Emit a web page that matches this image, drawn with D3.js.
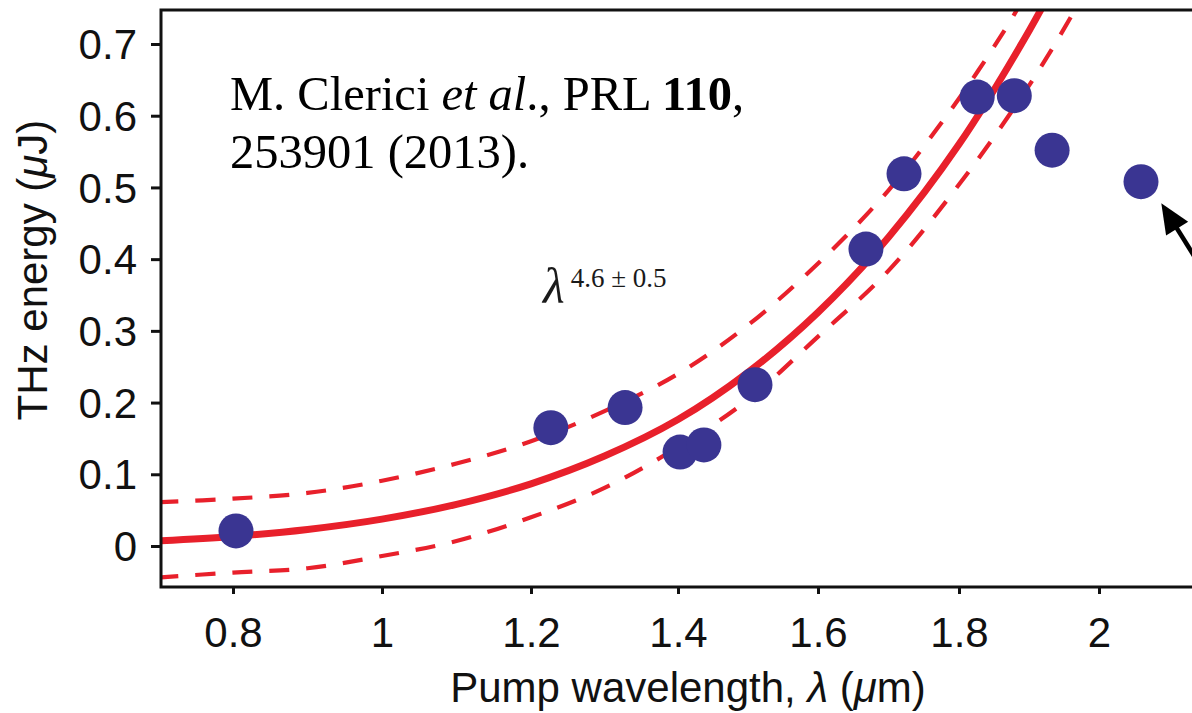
<!DOCTYPE html>
<html>
<head>
<meta charset="utf-8">
<script src="https://cdn.jsdelivr.net/npm/d3@7"></script>
<style>
  html, body { margin: 0; padding: 0; background: #fff; }
  svg { display: block; }
</style>
</head>
<body>
<svg id="chart" width="1192" height="713"></svg>
<script>
// ---------------- data ----------------
const xTicks = [0.8, 1.0, 1.2, 1.4, 1.6, 1.8, 2.0];
const xTickLabels = ["0.8", "1", "1.2", "1.4", "1.6", "1.8", "2"];
const yTicks = [0, 0.1, 0.2, 0.3, 0.4, 0.5, 0.6, 0.7];
const yTickLabels = ["0", "0.1", "0.2", "0.3", "0.4", "0.5", "0.6", "0.7"];

// measured THz energy points (pump wavelength in um, energy in uJ)
const wavelength = [0.804, 1.227, 1.328, 1.403, 1.437, 1.510, 1.668, 1.722, 1.826, 1.879, 1.933, 2.060];
const energy     = [0.021, 0.165, 0.193, 0.131, 0.141, 0.225, 0.414, 0.519, 0.626, 0.628, 0.552, 0.508];

// fitted curve (lambda^4.6) and its confidence band
const fitLambda = [0.70, 0.80, 0.90, 1.00, 1.10, 1.20, 1.30, 1.40, 1.50, 1.60, 1.70, 1.80, 1.90, 1.95];
const fitEnergy = [0.0073, 0.0134, 0.0231, 0.0375, 0.0581, 0.0867, 0.1254, 0.1763, 0.2421, 0.3258, 0.4306, 0.5601, 0.7182, 0.809];
const upperLambda = [0.70, 0.80, 0.90, 1.00, 1.10, 1.20, 1.30, 1.40, 1.50, 1.60, 1.70, 1.80, 1.88, 1.90];
const upperEnergy = [0.061, 0.066, 0.074, 0.091, 0.115, 0.146, 0.188, 0.240, 0.308, 0.394, 0.496, 0.624, 0.743, 0.78];
const lowerLambda = [0.70, 0.80, 0.90, 1.00, 1.10, 1.20, 1.30, 1.40, 1.50, 1.60, 1.70, 1.80, 1.90, 1.97, 2.00];
const lowerEnergy = [-0.044, -0.037, -0.031, -0.014, 0.007, 0.040, 0.081, 0.138, 0.204, 0.292, 0.384, 0.504, 0.642, 0.755, 0.81];

// annotation arrow (tip and tail, in data units)
const arrowTip  = [2.089, 0.478];
const arrowTail = [2.180, 0.335];

// ---------------- layout ----------------
const svg = d3.select("#chart");
const W = 1192, H = 713;
const mLeft = 161, mTop = 10, mBottom = 587, mRight = 1192 + 20;
const red = "#e8202b", blue = "#3a3592";

// x axis of the original figure is slightly uneven: piecewise-linear scale through its ticks
const x = d3.scaleLinear()
  .domain(xTicks)
  .range([233, 382, 531, 678, 818, 959, 1099]);
const y = d3.scaleLinear().domain([0, 0.7]).range([546, 44]);

// clip
svg.append("defs").append("clipPath").attr("id", "plotclip")
  .append("rect").attr("x", mLeft).attr("y", mTop).attr("width", mRight - mLeft).attr("height", mBottom - mTop);

const plot = svg.append("g").attr("clip-path", "url(#plotclip)");

const line = d3.line().x(d => x(d[0])).y(d => y(d[1])).curve(d3.curveCatmullRom.alpha(0.5));

plot.append("path")
  .datum(d3.zip(upperLambda, upperEnergy))
  .attr("d", line).attr("fill", "none").attr("stroke", red)
  .attr("stroke-width", 4.2).attr("stroke-dasharray", "20 17");
plot.append("path")
  .datum(d3.zip(lowerLambda, lowerEnergy))
  .attr("d", line).attr("fill", "none").attr("stroke", red)
  .attr("stroke-width", 4.2).attr("stroke-dasharray", "20 17");
plot.append("path")
  .datum(d3.zip(fitLambda, fitEnergy))
  .attr("d", line).attr("fill", "none").attr("stroke", red)
  .attr("stroke-width", 7);

plot.selectAll("circle.pt")
  .data(d3.zip(wavelength, energy))
  .join("circle").attr("class", "pt")
  .attr("cx", d => x(d[0])).attr("cy", d => y(d[1]))
  .attr("r", 17.5).attr("fill", blue);

// arrow
{
  const tx = x(arrowTip[0]), ty = y(arrowTip[1]);
  const ex = x(arrowTail[0]), ey = y(arrowTail[1]);
  const len = Math.hypot(ex - tx, ey - ty);
  const ux = (ex - tx) / len, uy = (ey - ty) / len;
  const hl = 30, hw = 13;
  const bx = tx + ux * hl, by = ty + uy * hl;
  plot.append("line")
    .attr("x1", bx - ux * 2).attr("y1", by - uy * 2).attr("x2", ex).attr("y2", ey)
    .attr("stroke", "#000").attr("stroke-width", 4.5);
  plot.append("path")
    .attr("d", `M${tx},${ty}L${bx - uy * hw},${by + ux * hw}L${bx + uy * hw},${by - ux * hw}Z`)
    .attr("fill", "#000");
}

// frame
const frame = svg.append("g").attr("stroke", "#111").attr("stroke-width", 3).attr("fill", "none");
frame.append("path").attr("d", `M${W + 5},${mTop}H${mLeft}V${mBottom}H${W + 5}`).attr("stroke-linejoin", "miter");

const fontSans = "'Liberation Sans', Arial, Helvetica, sans-serif";
const fontSerif = "'Liberation Serif', 'Times New Roman', serif";

// y axis
const yAxis = d3.axisLeft(y).tickValues(yTicks)
  .tickFormat((d, i) => yTickLabels[i]).tickSize(10).tickPadding(14);
const gy = svg.append("g").attr("transform", `translate(${mLeft},0)`).call(yAxis);
gy.select(".domain").remove();
gy.selectAll(".tick line").attr("stroke", "#111").attr("stroke-width", 3);
gy.selectAll(".tick text").attr("font-family", fontSans).attr("font-size", 42).attr("fill", "#111").attr("dy", "0.35em");

// x axis
const xAxis = d3.axisBottom(x).tickValues(xTicks)
  .tickFormat((d, i) => xTickLabels[i]).tickSize(7).tickPadding(23);
const gx = svg.append("g").attr("transform", `translate(0,${mBottom})`).call(xAxis);
gx.select(".domain").remove();
gx.selectAll(".tick line").attr("stroke", "#111").attr("stroke-width", 3);
gx.selectAll(".tick text").attr("font-family", fontSans).attr("font-size", 42).attr("fill", "#111");

// axis titles
const xt = svg.append("text").attr("x", 688).attr("y", 702).attr("text-anchor", "middle")
  .attr("font-family", fontSans).attr("font-size", 42).attr("fill", "#111");
xt.append("tspan").text("Pump wavelength, ");
xt.append("tspan").attr("font-style", "italic").text("λ");
xt.append("tspan").text(" (");
xt.append("tspan").attr("font-style", "italic").text("μ");
xt.append("tspan").text("m)");

const yt = svg.append("text").attr("transform", "translate(47,270) rotate(-90)").attr("text-anchor", "middle")
  .attr("font-family", fontSans).attr("font-size", 42).attr("fill", "#111");
yt.append("tspan").text("THz energy (");
yt.append("tspan").attr("font-style", "italic").text("μ");
yt.append("tspan").text("J)");

// citation
const c1 = svg.append("text").attr("x", 230).attr("y", 110)
  .attr("font-family", fontSerif).attr("font-size", 48.5).attr("fill", "#000");
c1.append("tspan").text("M. Clerici ");
c1.append("tspan").attr("font-style", "italic").text("et al");
c1.append("tspan").text("., PRL ");
c1.append("tspan").attr("font-weight", "bold").text("110");
c1.append("tspan").text(",");
svg.append("text").attr("x", 230).attr("y", 168)
  .attr("font-family", fontSerif).attr("font-size", 48.5).attr("fill", "#000")
  .text("253901 (2013).");

// fit label
const fl = svg.append("text").attr("x", 543).attr("y", 303)
  .attr("font-family", fontSerif).attr("fill", "#1a1a1a");
fl.append("tspan").attr("font-size", 50).attr("font-style", "italic").text("λ");
fl.append("tspan").attr("font-size", 27).attr("dy", -16).attr("dx", 6).text("4.6 ± 0.5");
</script>
</body>
</html>
